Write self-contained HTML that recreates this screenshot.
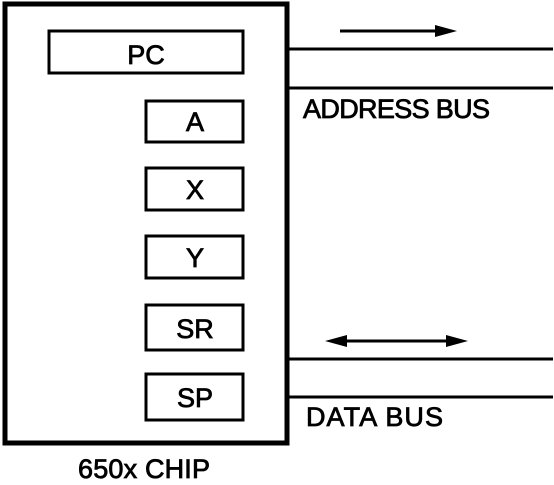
<!DOCTYPE html>
<html><head><style>
body{margin:0;background:#fff;width:554px;height:480px;overflow:hidden}
svg text{font-family:"Liberation Sans",sans-serif;fill:#000;stroke:#000;stroke-width:0.8px}
</style></head><body>
<svg width="554" height="480" viewBox="0 0 554 480">
<rect x="5" y="4" width="282" height="439" fill="none" stroke="#000" stroke-width="5"/>
<g fill="none" stroke="#000" stroke-width="3">
<rect x="49" y="31" width="194" height="42"/>
<rect x="146" y="101" width="97" height="41"/>
<rect x="146" y="168" width="97" height="42"/>
<rect x="146" y="236" width="97" height="42"/>
<rect x="146" y="305" width="97" height="45"/>
<rect x="146" y="374" width="97" height="46"/>
</g>
<g stroke="#000" stroke-width="3">
<line x1="289" y1="49" x2="553" y2="49"/>
<line x1="289" y1="88" x2="553" y2="88"/>
<line x1="289" y1="359" x2="553" y2="359"/>
<line x1="289" y1="397" x2="553" y2="397"/>
<line x1="340" y1="31" x2="445" y2="31"/>
<line x1="338" y1="341" x2="455" y2="341"/>
</g>
<polygon points="457,31 435,25 435,37" fill="#000"/>
<polygon points="325,341 347,335 347,347" fill="#000"/>
<polygon points="468,341 446,335 446,347" fill="#000"/>
<g font-size="27" text-anchor="middle">
<text x="146" y="64">PC</text>
<text x="195" y="131">A</text>
<text x="195" y="199">X</text>
<text x="195" y="267">Y</text>
<text x="195" y="338">SR</text>
<text x="195" y="407">SP</text>
</g>
<g font-size="27">
<text x="303" y="118" textLength="187" lengthAdjust="spacing">ADDRESS BUS</text>
<text x="306" y="426" textLength="137" lengthAdjust="spacing">DATA BUS</text>
<text x="78" y="478" textLength="132" lengthAdjust="spacing">650x CHIP</text>
</g>
</svg>
</body></html>
